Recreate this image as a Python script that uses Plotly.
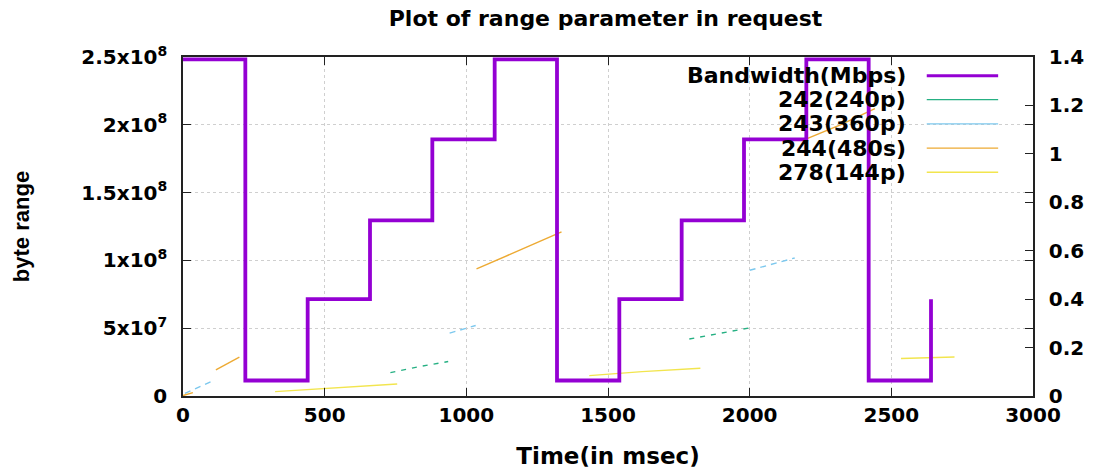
import plotly.graph_objects as go

# ---------------- data ----------------
bw_time = [0, 220, 440, 660, 880, 1100, 1320, 1540, 1760, 1980, 2200, 2420, 2640]
bw_mbps = [1.39, 0.064, 0.40, 0.725, 1.06, 1.39, 0.064, 0.40, 0.725, 1.06, 1.39, 0.064, 0.40]

s242_time = [732, 830, 936, None, 1787, 1900, 2006]
s242_byte = [1.72e7, 2.15e7, 2.54e7, None, 4.2e7, 4.65e7, 5.05e7]

s243_time = [7, 106, None, 941, 1033, None, 2000, 2159]
s243_byte = [2.0e6, 1.13e7, None, 4.64e7, 5.2e7, None, 9.27e7, 1.018e8]

s244_time = [0, 35, None, 116, 199, None, 1036, 1190, 1336, None, 2194, 2320, 2442]
s244_byte = [0.3e6, 2.5e6, None, 1.92e7, 2.86e7, None, 9.37e7, 1.08e8, 1.21e8, None, 1.89e8, 2.0e8, 2.12e8]

s278_time = [325, 500, 756, None, 1434, 1620, 1826, None, 2534, 2723]
s278_byte = [3.2e6, 5.5e6, 8.9e6, None, 1.5e7, 1.8e7, 2.05e7, None, 2.76e7, 2.88e7]

x_ticks = [0, 500, 1000, 1500, 2000, 2500, 3000]
y_ticks = [0, 5e7, 1e8, 1.5e8, 2e8, 2.5e8]
y_ticktext = ["0", "5x10<sup>7</sup>", "1x10<sup>8</sup>", "1.5x10<sup>8</sup>",
              "2x10<sup>8</sup>", "2.5x10<sup>8</sup>"]
y2_ticks = [0, 0.2, 0.4, 0.6, 0.8, 1.0, 1.2, 1.4]
y2_ticktext = ["0", "0.2", "0.4", "0.6", "0.8", "1", "1.2", "1.4"]

legend_names = ["Bandwidth(Mbps)", "242(240p)", "243(360p)", "244(480s)", "278(144p)"]
colors = ["#9400D3", "#26B083", "#7CC8EE", "#EDAA33", "#F2E54E"]

# ---------------- figure ----------------
fig = go.Figure()

fig.add_trace(go.Scatter(x=bw_time, y=bw_mbps, mode="lines", yaxis="y2",
                         line=dict(color=colors[0], width=3.8, shape="hv"),
                         name=legend_names[0], showlegend=False))
fig.add_trace(go.Scatter(x=s242_time, y=s242_byte, mode="lines",
                         line=dict(color=colors[1], width=1.4, dash="5px,6px"),
                         name=legend_names[1], showlegend=False))
fig.add_trace(go.Scatter(x=s243_time, y=s243_byte, mode="lines",
                         line=dict(color=colors[2], width=1.4, dash="6px,5px"),
                         name=legend_names[2], showlegend=False))
fig.add_trace(go.Scatter(x=s244_time, y=s244_byte, mode="lines",
                         line=dict(color=colors[3], width=1.4),
                         name=legend_names[3], showlegend=False))
fig.add_trace(go.Scatter(x=s278_time, y=s278_byte, mode="lines",
                         line=dict(color=colors[4], width=1.4),
                         name=legend_names[4], showlegend=False))

axis_common = dict(showline=True, linecolor="#222222", linewidth=1.5,
                   ticks="inside", ticklen=8, tickcolor="#222222",
                   zeroline=False, automargin=False)
grid = dict(showgrid=True, gridcolor="#cfcfcf", griddash="dot", gridwidth=1)

fig.update_layout(
    width=1099, height=473,
    margin=dict(l=183, r=66, t=57, b=77),
    paper_bgcolor="white", plot_bgcolor="white",
    font=dict(family="DejaVu Sans", size=20, color="black", weight="bold"),
    title=dict(text="Plot of range parameter in request", x=0.551, xanchor="center",
               y=0.962, yanchor="middle",
               font=dict(family="DejaVu Sans", size=22, weight="bold", color="black")),
    xaxis=dict(range=[0, 3000], tickvals=x_ticks, mirror="ticks",
               title=dict(text="Time(in msec)", standoff=22,
                          font=dict(size=23, weight="bold")),
               **grid, **axis_common),
    yaxis=dict(range=[0, 2.5e8], tickvals=y_ticks, ticktext=y_ticktext, mirror="ticks",
               ticklabelstandoff=10,
               title=dict(text="byte range", standoff=46,
                          font=dict(family="Liberation Sans", size=22, weight="bold")),
               **grid, **axis_common),
    yaxis2=dict(range=[0, 1.4], tickvals=y2_ticks, ticktext=y2_ticktext,
                overlaying="y", side="right", showgrid=False, ticklabelstandoff=10,
                **axis_common),
)

# legend area hides the grid (like gnuplot's key box)
fig.add_shape(type="rect", xref="paper", yref="paper", x0=0.561, x1=0.98, y0=0.62, y1=0.997,
              fillcolor="white", line=dict(width=0), layer="between")

# gnuplot-style key: right-aligned text followed by the line sample
row_y = [0.945, 0.874, 0.803, 0.731, 0.660]
for i, name in enumerate(legend_names):
    fig.add_annotation(x=0.853, y=row_y[i], xref="paper", yref="paper",
                       text=name, showarrow=False, xanchor="right", yanchor="middle",
                       font=dict(family="DejaVu Sans", size=22, weight="bold", color="black"))
    fig.add_shape(type="line", xref="paper", yref="paper", x0=0.875, x1=0.959,
                  y0=row_y[i], y1=row_y[i],
                  line=dict(color=colors[i], width=3 if i == 0 else 1.3))

fig.write_html("out.html")
